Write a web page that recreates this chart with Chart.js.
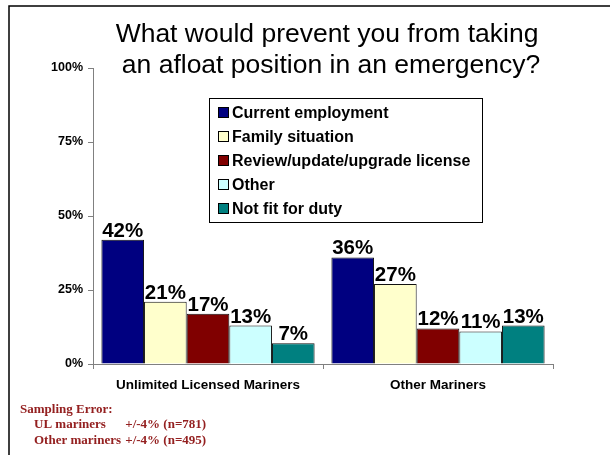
<!DOCTYPE html>
<html>
<head>
<meta charset="utf-8">
<script src="https://cdn.jsdelivr.net/npm/chart.js@4/dist/chart.umd.min.js"></script>
<style>
  html, body { margin: 0; padding: 0; background: #fff; }
  #wrap { width: 610px; height: 455px; }
</style>
</head>
<body>
<div id="wrap"><canvas id="c" width="610" height="455"></canvas></div>
<script>
// Survey groups and the answers given
const categories = ['Unlimited Licensed Mariners', 'Other Mariners'];
const seriesNames = ['Current employment', 'Family situation', 'Review/update/upgrade license', 'Other', 'Not fit for duty'];
const currentEmployment = [42, 36];
const familySituation = [21, 27];
const reviewLicense = [17, 12];
const otherReason = [13, 11];
const notFitForDuty = [7, 13];
const yTicks = [0, 25, 50, 75, 100];

const titleLines = ['What would prevent you from taking', 'an afloat position in an emergency?'];
const samplingLines = ['Sampling Error:', 'UL mariners', 'Other mariners '];
const samplingValues = ['+/-4% (n=781)', '+/-4% (n=495)'];

const seriesColors = ['#000080', '#FFFFCC', '#800000', '#CCFFFF', '#008080'];
const seriesValues = [currentEmployment, familySituation, reviewLicense, otherReason, notFitForDuty];

const datasets = seriesNames.map((name, i) => ({
  label: name,
  data: seriesValues[i],
  backgroundColor: seriesColors[i],
  borderColor: '#111',
  borderWidth: 1,
  borderSkipped: 'bottom',
  categoryPercentage: 0.927,
  barPercentage: 1.0
}));

const FONT = '"Liberation Sans", Arial, sans-serif';
const SERIF = '"Liberation Serif", "Times New Roman", serif';

// Page frame, title, legend box and sampling note
const decorations = {
  id: 'decorations',
  beforeDraw(chart) {
    const ctx = chart.ctx;
    ctx.save();
    ctx.fillStyle = '#fff';
    ctx.fillRect(0, 0, chart.width, chart.height);
    ctx.strokeStyle = '#000';
    ctx.lineWidth = 1.5;
    ctx.beginPath();
    ctx.moveTo(9, 455);
    ctx.lineTo(9, 6);
    ctx.lineTo(610, 6);
    ctx.stroke();
    ctx.restore();
  },
  afterDraw(chart) {
    const ctx = chart.ctx;
    ctx.save();
    // title
    ctx.fillStyle = '#000';
    ctx.font = '26.5px ' + FONT;
    ctx.textAlign = 'center';
    ctx.textBaseline = 'alphabetic';
    ctx.fillText(titleLines[0], 327, 42);
    ctx.fillText(titleLines[1], 331, 73);

    // legend box
    const bx = 209.5, by = 98.5, bw = 273, bh = 124;
    ctx.fillStyle = '#fff';
    ctx.fillRect(bx, by, bw, bh);
    ctx.strokeStyle = '#000';
    ctx.lineWidth = 1;
    ctx.strokeRect(bx, by, bw, bh);
    ctx.font = 'bold 16px ' + FONT;
    ctx.textAlign = 'left';
    ctx.textBaseline = 'middle';
    chart.data.datasets.forEach((ds, i) => {
      const cy = 112.5 + i * 24;
      ctx.fillStyle = ds.backgroundColor;
      ctx.fillRect(218.5, cy - 5, 10, 10);
      ctx.strokeStyle = '#000';
      ctx.strokeRect(218.5, cy - 5, 10, 10);
      ctx.fillStyle = '#000';
      ctx.fillText(ds.label, 232, cy + 1);
    });

    // sampling error note
    ctx.fillStyle = '#942020';
    ctx.font = 'bold 13px ' + SERIF;
    ctx.textBaseline = 'alphabetic';
    ctx.fillText(samplingLines[0], 20, 413);
    ctx.fillText(samplingLines[1], 34, 428);
    ctx.fillText(samplingLines[2], 34, 444);
    const valueX = 34 + ctx.measureText(samplingLines[2]).width + 1;
    ctx.fillText(samplingValues[0], valueX, 428);
    ctx.fillText(samplingValues[1], valueX, 444);
    ctx.restore();
  }
};

// Percentage printed above each bar
const valueLabels = {
  id: 'valueLabels',
  afterDatasetsDraw(chart) {
    const ctx = chart.ctx;
    ctx.save();
    ctx.fillStyle = '#000';
    ctx.font = 'bold 20.5px ' + FONT;
    ctx.textAlign = 'center';
    ctx.textBaseline = 'alphabetic';
    chart.data.datasets.forEach((ds, i) => {
      chart.getDatasetMeta(i).data.forEach((el, j) => {
        ctx.fillText(ds.data[j] + '%', el.x, el.y - 3);
      });
    });
    ctx.restore();
  }
};

new Chart(document.getElementById('c'), {
  type: 'bar',
  data: { labels: categories, datasets },
  options: {
    responsive: false,
    animation: false,
    devicePixelRatio: 1,
    layout: { padding: { left: 0, top: 68, right: 57, bottom: 0 } },
    plugins: {
      legend: { display: false },
      title: { display: false },
      tooltip: { enabled: false }
    },
    scales: {
      x: {
        afterFit(scale) { scale.height = 91; },
        grid: {
          display: true,
          drawOnChartArea: false,
          drawTicks: true,
          tickLength: 5,
          color: '#808080',
          offset: true
        },
        border: { display: true, color: '#808080', width: 1 },
        ticks: {
          color: '#000',
          font: { family: FONT, size: 13.5, weight: 'bold' },
          padding: 8,
          maxRotation: 0
        }
      },
      y: {
        min: 0,
        max: 100,
        afterFit(scale) { scale.width = 93; },
        afterBuildTicks(scale) { scale.ticks = yTicks.map(v => ({ value: v })); },
        grid: {
          display: true,
          drawOnChartArea: false,
          drawTicks: true,
          tickLength: 5,
          color: '#808080'
        },
        border: { display: true, color: '#808080', width: 1 },
        ticks: {
          color: '#000',
          font: { family: FONT, size: 12.5, weight: 'bold' },
          padding: 5,
          callback: v => v + '%'
        }
      }
    }
  },
  plugins: [decorations, valueLabels]
});
</script>
</body>
</html>
